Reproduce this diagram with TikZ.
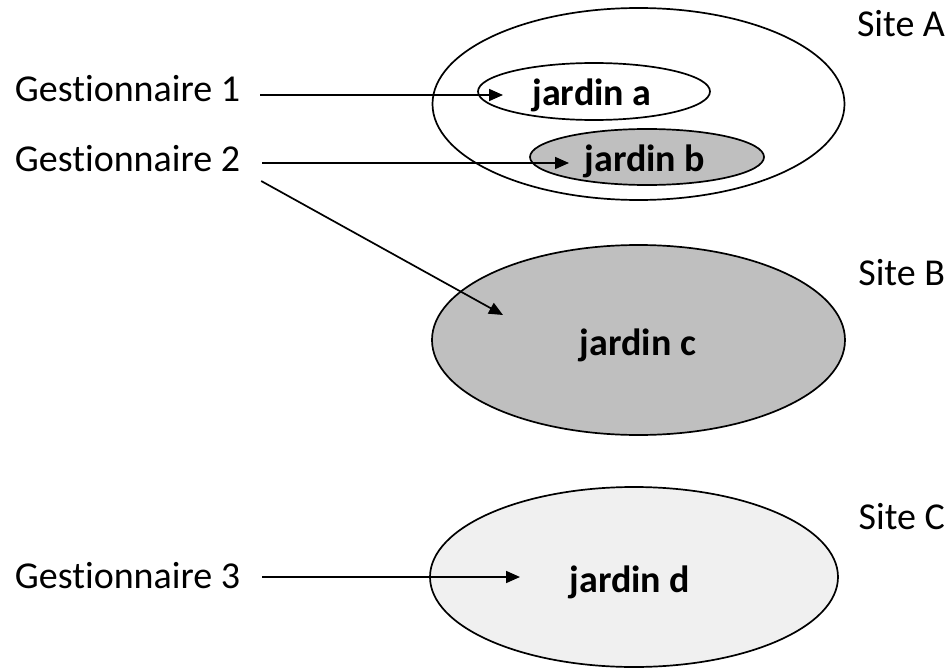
\documentclass[tikz,border=0pt]{standalone}
\usepackage{fontspec}
\setmainfont[Ligatures={NoCommon}]{Carlito}
\usetikzlibrary{shapes.geometric,arrows.meta}
\definecolor{midgray}{HTML}{BFBFBF}
\definecolor{lightgray2}{HTML}{F0F0F0}
\begin{document}
\begin{tikzpicture}[x=1pt,y=-1pt,
  every node/.style={inner sep=0pt,outer sep=0pt},
  lab/.style={font=\fontsize{38}{40}\selectfont},
  jlab/.style={font=\fontsize{38}{40}\selectfont\bfseries},
  ell/.style={ellipse,draw=black,line width=1.7pt},
  arr/.style={line width=1.7pt,-{Triangle[length=14pt,width=12pt]}}]
\useasboundingbox[fill=white] (0,0) rectangle (951,669);
% ellipses
\node[ell,minimum width=412pt,minimum height=192pt] (siteA) at (638.5,104) {};
\node[ell,minimum width=232pt,minimum height=57pt] (ea) at (594,91.5) {};
\node[ell,fill=midgray,minimum width=234pt,minimum height=56pt] (eb) at (647,157) {};
\node[ell,fill=midgray,minimum width=413pt,minimum height=190pt] (ec) at (638.5,340) {};
\node[ell,fill=lightgray2,minimum width=408pt,minimum height=180pt] (ed) at (634,577) {};
% garden labels
\node[jlab,anchor=base] (ja) at (592,106) {jardin a};
\node[jlab,anchor=base] (jb) at (645,171) {jardin b};
\node[jlab,anchor=base] (jc) at (638,355) {jardin c};
\node[jlab,anchor=base] (jd) at (630,592) {jardin d};
% site labels
\node[lab,anchor=base east] (sA) at (945,37) {Site A};
\node[lab,anchor=base east] (sB) at (945,285) {Site B};
\node[lab,anchor=base east] (sC) at (945,529) {Site C};
% managers
\node[lab,anchor=base west] (g1) at (15,102) {Gestionnaire 1};
\node[lab,anchor=base west] (g2) at (15,171) {Gestionnaire 2};
\node[lab,anchor=base west] (g3) at (15,588) {Gestionnaire 3};
% arrow targets
\coordinate (ta) at (503,95);
\coordinate (tb) at (569,163);
\coordinate (tc) at (503,315);
\coordinate (td) at (520,577);
% arrows
\draw[arr,shorten <=20pt] (g1.east |- ta) -- (ta);
\draw[arr,shorten <=22pt] (g2.east |- tb) -- (tb);
\draw[arr] ([shift={(21,10)}]g2.base east) -- (tc);
\draw[arr,shorten <=22pt] (g3.east |- td) -- (td);
\end{tikzpicture}
\end{document}
